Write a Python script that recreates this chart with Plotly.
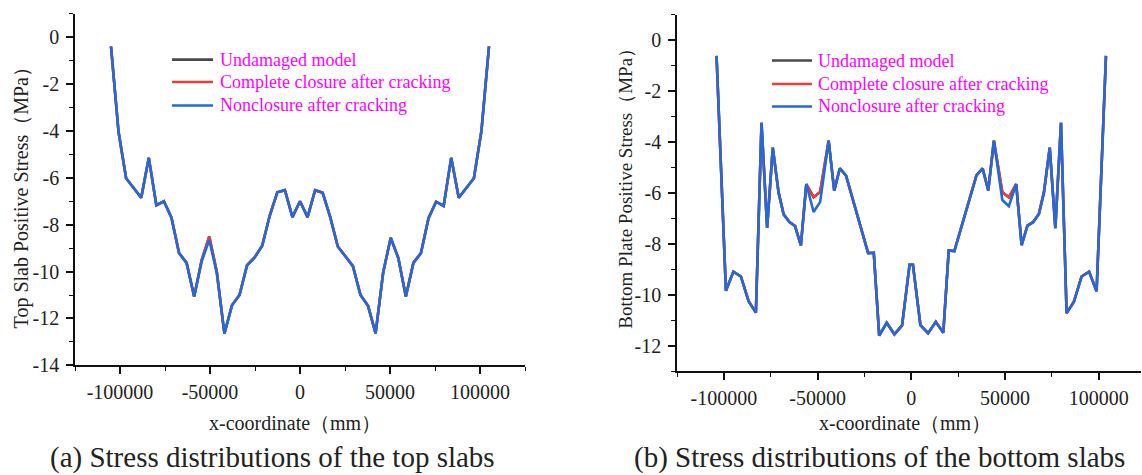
import plotly.graph_objects as go

# ---------------- Top slab: node x-coordinates (mm) and stresses (MPa) ----------------
top_x = [-105000, -100800, -96600, -88200, -84000, -79800, -75600, -71400, -67200,
         -63000, -58800, -54600, -50400, -46200, -42000, -37800, -33600, -29400,
         -25200, -21000, -16800, -12600, -8400, -4200, 0, 4200, 8400, 12600, 16800,
         21000, 25200, 29400, 33600, 37800, 42000, 46200, 50400, 54600, 58800, 63000,
         67200, 71400, 75600, 79800, 84000, 88200, 96600, 100800, 105000]

top_nonclosure = [-0.40, -4.05, -6.02, -6.85, -5.15, -7.17, -7.00, -7.70, -9.21,
                  -9.63, -11.06, -9.56, -8.65, -10.08, -12.65, -11.44, -11.00, -9.73,
                  -9.40, -8.90, -7.61, -6.62, -6.53, -7.68, -7.00, -7.68, -6.53, -6.64,
                  -7.68, -8.93, -9.35, -9.77, -11.00, -11.46, -12.64, -10.04, -8.56,
                  -9.42, -11.06, -9.63, -9.21, -7.72, -7.02, -7.20, -5.15, -6.85,
                  -6.02, -4.00, -0.39]

top_closure = [-0.40, -4.05, -6.02, -6.85, -5.15, -7.17, -7.00, -7.70, -9.21,
               -9.63, -11.06, -9.50, -8.50, -10.02, -12.65, -11.44, -11.00, -9.73,
               -9.40, -8.90, -7.61, -6.62, -6.53, -7.68, -7.00, -7.68, -6.53, -6.64,
               -7.68, -8.93, -9.35, -9.77, -11.00, -11.46, -12.64, -10.04, -8.56,
               -9.42, -11.06, -9.63, -9.21, -7.72, -7.02, -7.20, -5.15, -6.85,
               -6.02, -4.00, -0.39]

top_undamaged = list(top_closure)

# ---------------- Bottom plate ----------------
bot_x = [-103900, -98900, -94900, -90900, -86800, -82900, -79900, -76900, -73900,
         -70800, -68100, -65000, -62000, -58900, -56000, -52100, -48600, -44100,
         -41100, -38100, -34800, -23000, -20000, -17100, -13100, -9000, -4900, -900,
         900, 4900, 9000, 13100, 17100, 20000, 23000, 34800, 38100, 41100, 44100,
         48600, 52100, 56000, 58900, 62000, 65000, 68100, 70800, 73900, 76900, 79900,
         82900, 86800, 90900, 94900, 98900, 103900]

bot_nonclosure = [-0.62, -9.84, -9.09, -9.28, -10.25, -10.70, -3.25, -7.37, -4.22,
                  -5.98, -6.84, -7.14, -7.30, -8.06, -5.65, -6.75, -6.35, -3.95,
                  -5.91, -5.03, -5.32, -8.36, -8.35, -11.60, -11.10, -11.55, -11.20,
                  -8.82, -8.82, -11.19, -11.51, -11.06, -11.49, -8.26, -8.28, -5.31,
                  -5.04, -5.90, -3.95, -6.28, -6.52, -5.65, -8.05, -7.28, -7.15, -6.83,
                  -5.98, -4.22, -7.38, -3.25, -10.72, -10.27, -9.28, -9.09, -9.86, -0.62]

bot_closure = [-0.62, -9.84, -9.09, -9.28, -10.25, -10.70, -3.25, -7.37, -4.22,
               -5.98, -6.84, -7.14, -7.30, -8.06, -5.65, -6.17, -5.96, -3.95,
               -5.91, -5.03, -5.32, -8.36, -8.35, -11.60, -11.10, -11.55, -11.20,
               -8.82, -8.82, -11.19, -11.51, -11.06, -11.49, -8.26, -8.28, -5.31,
               -5.04, -5.90, -3.95, -5.97, -6.17, -5.65, -8.05, -7.28, -7.15, -6.83,
               -5.98, -4.22, -7.38, -3.25, -10.72, -10.27, -9.28, -9.09, -9.86, -0.62]

bot_undamaged = list(bot_closure)

series_names = ["Undamaged model", "Complete closure after cracking",
                "Nonclosure after cracking"]
series_colors = ["#4a4a4a", "#e8403a", "#2369dc"]

x_tickvals = [-100000, -50000, 0, 50000, 100000]
x_ticktext = ["-100000", "-50000", "0", "50000", "100000"]
top_y_tickvals = [0, -2, -4, -6, -8, -10, -12, -14]
top_y_ticktext = ["0", "-2", "-4", "-6", "-8", "-10", "-12", "-14"]
bot_y_tickvals = [0, -2, -4, -6, -8, -10, -12]
bot_y_ticktext = ["0", "-2", "-4", "-6", "-8", "-10", "-12"]

W, H = 1142, 475
FONT = "Liberation Serif"
TEXT = "#222222"
MAGENTA = "#ff00ff"

fig = go.Figure()

panels = [
    ("x", "y", top_x, [top_undamaged, top_closure, top_nonclosure]),
    ("x2", "y2", bot_x, [bot_undamaged, bot_closure, bot_nonclosure]),
]
for xa, ya, xs, ys_list in panels:
    for name, color, ys in zip(series_names, series_colors, ys_list):
        fig.add_trace(go.Scatter(x=xs, y=ys, mode="lines", name=name,
                                 line=dict(color=color, width=2.6),
                                 xaxis=xa, yaxis=ya, showlegend=False))


def px_x(p):
    return p / W


def px_y(p):
    return 1 - p / H


axis_common = dict(
    showline=True, linecolor="#111111", linewidth=1.6,
    ticks="outside", ticklen=7, tickwidth=1.5, tickcolor="#111111",
    showgrid=False, zeroline=False,
    tickfont=dict(family=FONT, size=20, color=TEXT),
)
minor_x = dict(ticks="outside", ticklen=4, tickwidth=1.3,
               tickcolor="#111111", tick0=-125000, dtick=25000)
minor_y = dict(ticks="outside", ticklen=4, tickwidth=1.3,
               tickcolor="#111111", tick0=-13, dtick=1)

fig.update_layout(
    width=W, height=H,
    margin=dict(l=0, r=0, t=0, b=0),
    paper_bgcolor="white", plot_bgcolor="white",
    showlegend=False,
    xaxis=dict(domain=[px_x(75), px_x(525)], range=[-125000, 125000],
               tickmode="array", tickvals=x_tickvals, ticktext=x_ticktext,
               minor=minor_x, ticklabelstandoff=1, anchor="y", **axis_common),
    yaxis=dict(domain=[px_y(374), px_y(14)], range=[-14, 1],
               tickmode="array", tickvals=top_y_tickvals, ticktext=top_y_ticktext,
               minor=minor_y, ticklabelstandoff=3, anchor="x", **axis_common),
    xaxis2=dict(domain=[px_x(677), px_x(1141)], range=[-125000, 122600],
                tickmode="array", tickvals=x_tickvals, ticktext=x_ticktext,
                minor=minor_x, ticklabelstandoff=1, anchor="y2", **axis_common),
    yaxis2=dict(domain=[px_y(380), px_y(15)], range=[-13, 1],
                tickmode="array", tickvals=bot_y_tickvals, ticktext=bot_y_ticktext,
                minor=minor_y, ticklabelstandoff=3, anchor="x2", **axis_common),
)

annotations = []
shapes = []

# Legend keys for both panels
legend_specs = [
    (172, 213, 218, [61, 84, 108]),
    (772, 812, 816, [62, 86, 109]),
]
for x0, x1, tx, rows in legend_specs:
    for name, color, ry in zip(series_names, series_colors, rows):
        shapes.append(dict(type="line", xref="paper", yref="paper",
                           x0=px_x(x0), x1=px_x(x1), y0=px_y(ry), y1=px_y(ry),
                           line=dict(color=color, width=2.6)))
        annotations.append(dict(text=name, xref="paper", yref="paper",
                                x=px_x(tx), y=px_y(ry), xanchor="left",
                                yanchor="middle", showarrow=False,
                                font=dict(family=FONT, size=18, color=MAGENTA)))

# Axis titles
annotations += [
    dict(text="Top Slab Positive Stress（MPa）", xref="paper", yref="paper",
         x=px_x(21), y=px_y(198), textangle=-90, showarrow=False,
         xanchor="center", yanchor="middle",
         font=dict(family=FONT, size=20, color=TEXT)),
    dict(text="Bottom Plate Positive Stress（MPa）", xref="paper", yref="paper",
         x=px_x(626), y=px_y(188), textangle=-90, showarrow=False,
         xanchor="center", yanchor="middle",
         font=dict(family=FONT, size=19, color=TEXT)),
    dict(text="x-coordinate（mm）", xref="paper", yref="paper",
         x=px_x(295), y=px_y(433), showarrow=False,
         xanchor="center", yanchor="middle",
         font=dict(family=FONT, size=20, color=TEXT)),
    dict(text="x-coordinate（mm）", xref="paper", yref="paper",
         x=px_x(905), y=px_y(433), showarrow=False,
         xanchor="center", yanchor="middle",
         font=dict(family=FONT, size=20, color=TEXT)),
    dict(text="(a) Stress distributions of the top slabs", xref="paper", yref="paper",
         x=px_x(272), y=px_y(468), showarrow=False,
         xanchor="center", yanchor="middle",
         font=dict(family=FONT, size=29, color=TEXT)),
    dict(text="(b) Stress distributions of the bottom slabs", xref="paper", yref="paper",
         x=px_x(880), y=px_y(468), showarrow=False,
         xanchor="center", yanchor="middle",
         font=dict(family=FONT, size=29, color=TEXT)),
]

fig.update_layout(annotations=annotations, shapes=shapes)

fig.write_html("out.html")
